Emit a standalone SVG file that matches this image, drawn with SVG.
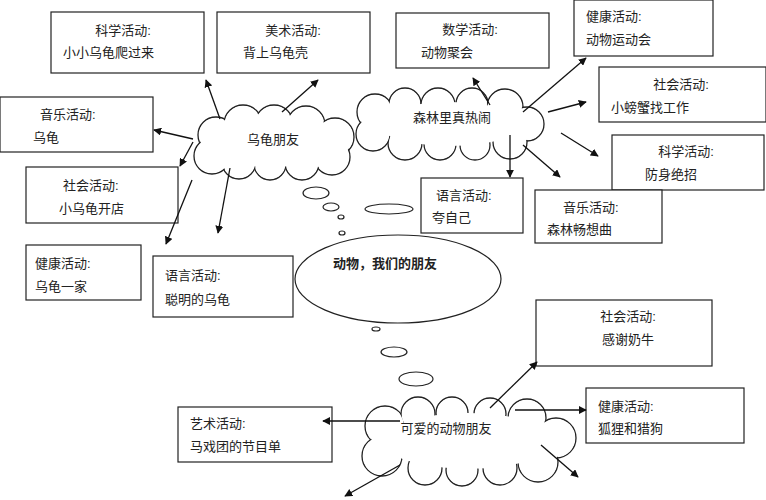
<svg xmlns="http://www.w3.org/2000/svg" width="766" height="500" viewBox="0 0 766 500">
<style>
.box{fill:#fff;stroke:#222;stroke-width:1.2}
.t{font-family:"Liberation Sans","Noto Sans CJK SC",sans-serif;font-size:13px;fill:#222}
.cs{fill:#fff;stroke:#222;stroke-width:1.3}
.cf{fill:#fff;stroke:none}
.bub{fill:#fff;stroke:#222;stroke-width:1.2}
.c line{stroke:#111;stroke-width:1.3;marker-end:url(#ah)}
</style>
<defs>
<marker id="ah" viewBox="0 0 10 10" refX="9" refY="5" markerWidth="8" markerHeight="8" orient="auto" markerUnits="userSpaceOnUse"><path d="M0,0L10,5L0,10z" fill="#111"/></marker>
</defs>
<rect width="766" height="500" fill="#fff"/>

<g id="bubbles">
<ellipse class="bub" cx="316" cy="193" rx="13" ry="6"/>
<ellipse class="bub" cx="331" cy="207" rx="8" ry="4"/>
<ellipse class="bub" cx="341" cy="217" rx="3" ry="2"/>
<ellipse class="bub" cx="342" cy="233" rx="3" ry="2"/>
<ellipse class="bub" cx="389" cy="209" rx="24" ry="5"/>
<ellipse class="bub" cx="376" cy="329" rx="4" ry="2"/>
<ellipse class="bub" cx="394" cy="352" rx="13" ry="5"/>
<ellipse class="bub" cx="416" cy="379" rx="17" ry="7"/>
</g>

<g id="cloud-turtle">
<g class="cs"><circle cx="216" cy="135" r="18"/><circle cx="243" cy="124" r="19"/><circle cx="274" cy="124" r="19"/><circle cx="306" cy="125" r="19"/><circle cx="335" cy="137" r="19"/><circle cx="332" cy="157" r="18"/><circle cx="302" cy="163" r="17"/><circle cx="270" cy="164" r="16"/><circle cx="239" cy="162" r="17"/><circle cx="212" cy="156" r="18"/></g>
<g class="cf"><circle cx="216" cy="135" r="17"/><circle cx="243" cy="124" r="18"/><circle cx="274" cy="124" r="18"/><circle cx="306" cy="125" r="18"/><circle cx="335" cy="137" r="18"/><circle cx="332" cy="157" r="17"/><circle cx="302" cy="163" r="16"/><circle cx="270" cy="164" r="15"/><circle cx="239" cy="162" r="16"/><circle cx="212" cy="156" r="17"/><ellipse cx="273" cy="143" rx="60" ry="24"/></g>
<text class="t" x="273" y="144" text-anchor="middle">乌龟朋友</text>
</g>

<g id="cloud-forest">
<g class="cs"><circle cx="375" cy="112" r="18"/><circle cx="405" cy="104" r="16"/><circle cx="438" cy="105" r="17"/><circle cx="472" cy="104" r="16"/><circle cx="505" cy="107" r="18"/><circle cx="527" cy="124" r="17"/><circle cx="510" cy="142" r="17"/><circle cx="475" cy="145" r="15"/><circle cx="440" cy="144" r="16"/><circle cx="405" cy="143" r="17"/><circle cx="373" cy="134" r="17"/></g>
<g class="cf"><circle cx="375" cy="112" r="17"/><circle cx="405" cy="104" r="15"/><circle cx="438" cy="105" r="16"/><circle cx="472" cy="104" r="15"/><circle cx="505" cy="107" r="17"/><circle cx="527" cy="124" r="16"/><circle cx="510" cy="142" r="16"/><circle cx="475" cy="145" r="14"/><circle cx="440" cy="144" r="15"/><circle cx="405" cy="143" r="16"/><circle cx="373" cy="134" r="16"/><ellipse cx="450" cy="124" rx="72" ry="22"/></g>
<text class="t" x="452" y="122" text-anchor="middle">森林里真热闹</text>
</g>

<g id="cloud-lovely">
<g class="cs"><circle cx="385" cy="426" r="20"/><circle cx="418" cy="414" r="17"/><circle cx="452" cy="413" r="16"/><circle cx="490" cy="414" r="16"/><circle cx="527" cy="418" r="19"/><circle cx="556" cy="438" r="20"/><circle cx="538" cy="462" r="20"/><circle cx="500" cy="468" r="17"/><circle cx="462" cy="470" r="16"/><circle cx="425" cy="468" r="17"/><circle cx="382" cy="456" r="20"/></g>
<g class="cf"><circle cx="385" cy="426" r="19"/><circle cx="418" cy="414" r="16"/><circle cx="452" cy="413" r="15"/><circle cx="490" cy="414" r="15"/><circle cx="527" cy="418" r="18"/><circle cx="556" cy="438" r="19"/><circle cx="538" cy="462" r="19"/><circle cx="500" cy="468" r="16"/><circle cx="462" cy="470" r="15"/><circle cx="425" cy="468" r="16"/><circle cx="382" cy="456" r="19"/><ellipse cx="468" cy="441" rx="85" ry="28"/></g>
<text class="t" x="446" y="433" text-anchor="middle">可爱的动物朋友</text>
</g>

<g id="center">
<ellipse class="bub" cx="398" cy="279" rx="103" ry="44"/>
<text class="t" x="333" y="268" font-weight="bold">动物，我们的朋友</text>
</g>

<g id="n1"><rect class="box" x="51" y="12" width="153" height="61"/><text class="t" x="123" y="35" text-anchor="middle">科学活动:</text><text class="t" x="63" y="57">小小乌龟爬过来</text></g>
<g id="n2"><rect class="box" x="217" y="12" width="153" height="61"/><text class="t" x="293" y="35" text-anchor="middle">美术活动:</text><text class="t" x="243" y="57">背上乌龟壳</text></g>
<g id="n3"><rect class="box" x="0" y="97" width="153" height="55"/><text class="t" x="40" y="119">音乐活动:</text><text class="t" x="33" y="142">乌龟</text></g>
<g id="n4"><rect class="box" x="26" y="167" width="152" height="56"/><text class="t" x="63" y="190">社会活动:</text><text class="t" x="59" y="213">小乌龟开店</text></g>
<g id="n5"><rect class="box" x="26" y="245" width="115" height="55"/><text class="t" x="35" y="268">健康活动:</text><text class="t" x="35" y="291">乌龟一家</text></g>
<g id="n6"><rect class="box" x="153" y="256" width="140" height="61"/><text class="t" x="165" y="280">语言活动:</text><text class="t" x="165" y="304">聪明的乌龟</text></g>
<g id="n7"><rect class="box" x="396" y="13" width="153" height="55"/><text class="t" x="470" y="34" text-anchor="middle">数学活动:</text><text class="t" x="421" y="57">动物聚会</text></g>
<g id="n8"><rect class="box" x="574" y="0" width="139" height="56"/><text class="t" x="586" y="21">健康活动:</text><text class="t" x="586" y="44">动物运动会</text></g>
<g id="n9"><rect class="box" x="599" y="67" width="167" height="55"/><text class="t" x="681" y="89" text-anchor="middle">社会活动:</text><text class="t" x="611" y="112">小螃蟹找工作</text></g>
<g id="n10"><rect class="box" x="612" y="135" width="152" height="55"/><text class="t" x="686" y="156" text-anchor="middle">科学活动:</text><text class="t" x="645" y="179">防身绝招</text></g>
<g id="n11"><rect class="box" x="535" y="190" width="127" height="53"/><text class="t" x="563" y="212">音乐活动:</text><text class="t" x="547" y="234">森林畅想曲</text></g>
<g id="n12"><rect class="box" x="421" y="178" width="102" height="55"/><text class="t" x="436" y="200">语言活动:</text><text class="t" x="432" y="222">夸自己</text></g>
<g id="n13"><rect class="box" x="536" y="300" width="176" height="66"/><text class="t" x="628" y="321" text-anchor="middle">社会活动:</text><text class="t" x="628" y="344" text-anchor="middle">感谢奶牛</text></g>
<g id="n14"><rect class="box" x="586" y="388" width="158" height="55"/><text class="t" x="598" y="411">健康活动:</text><text class="t" x="598" y="433">狐狸和猎狗</text></g>
<g id="n15"><rect class="box" x="178" y="407" width="154" height="55"/><text class="t" x="190" y="428">艺术活动:</text><text class="t" x="190" y="451">马戏团的节目单</text></g>

<g id="connectors" class="c">
<line x1="220" y1="119" x2="206" y2="80"/>
<line x1="282" y1="112" x2="318" y2="80"/>
<line x1="193" y1="139" x2="154" y2="130"/>
<line x1="193" y1="142" x2="180" y2="166"/>
<line x1="192" y1="180" x2="166" y2="244"/>
<line x1="230" y1="168" x2="218" y2="233"/>
<line x1="490" y1="105" x2="473" y2="78"/>
<line x1="523" y1="112" x2="586" y2="58"/>
<line x1="548" y1="112" x2="586" y2="102"/>
<line x1="561" y1="133" x2="598" y2="156"/>
<line x1="523" y1="145" x2="560" y2="177"/>
<line x1="510" y1="135" x2="510" y2="177"/>
<line x1="400" y1="421" x2="323" y2="421"/>
<line x1="490" y1="408" x2="537" y2="362"/>
<line x1="515" y1="410" x2="586" y2="410"/>
<line x1="541" y1="445" x2="578" y2="477"/>
<line x1="400" y1="465" x2="345" y2="496"/>
</g>
</svg>
